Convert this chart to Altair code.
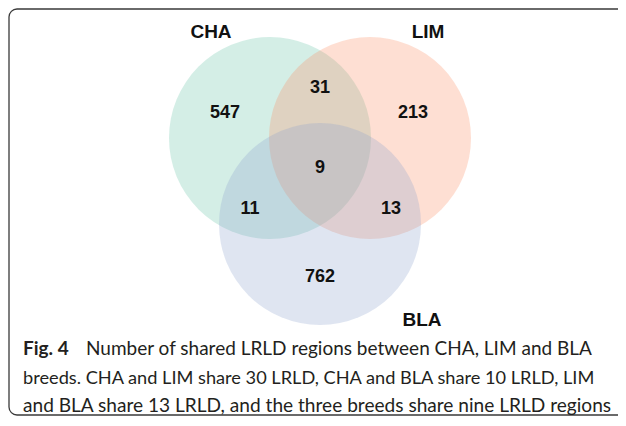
import altair as alt
import pandas as pd

# ---- data ----
sets = ["CHA", "LIM", "BLA"]
set_colors = ["#66c2a5", "#fc8d62", "#8da0cb"]
region_names = ["CHA only", "CHA & LIM", "LIM only", "all three", "CHA & BLA", "LIM & BLA", "BLA only"]
region_counts = [547, 31, 213, 9, 11, 13, 762]
caption_bold = "Fig. 4"
caption_lines = [
    "Number of shared LRLD regions between CHA, LIM and BLA",
    "breeds. CHA and LIM share 30 LRLD, CHA and BLA share 10 LRLD, LIM",
    "and BLA share 13 LRLD, and the three breeds share nine LRLD regions",
]

# ---- layout (chart pixel coordinates, y downward) ----
W, H = 610, 410
circle_cx = [262, 362, 312]
circle_cy = [130, 130, 216]
radius = 101
label_x = [203, 420, 414]
label_y = [24, 24, 312]
region_x = [217, 312, 405, 312, 242, 383, 312]
region_y = [105, 80, 105, 160, 201, 201, 269]
cap_x_bold = 15
cap_x = [78, 15, 15]
cap_y = [347, 376, 404]
cap_size = [19, 18.2, 19.1]

xs = alt.Scale(domain=[0, W], range=[0, W])
ys = alt.Scale(domain=[H, 0])

circles = pd.DataFrame({"set": sets, "cx": circle_cx, "cy": circle_cy})
labels = pd.DataFrame({"set": sets, "x": label_x, "y": label_y})
regions = pd.DataFrame({"region": region_names, "count": region_counts,
                        "x": region_x, "y": region_y})
caps = pd.DataFrame({"text": caption_lines, "x": cap_x, "y": cap_y, "fs": cap_size})
capb = pd.DataFrame({"text": [caption_bold], "x": [cap_x_bold], "y": [cap_y[0]]})

X = lambda f: alt.X(f"{f}:Q", scale=xs, axis=None)
Y = lambda f: alt.Y(f"{f}:Q", scale=ys, axis=None)

# Vega symbol size: radius = sqrt(size) / 2
circle_layer = alt.Chart(circles).mark_circle(opacity=0.28).encode(
    x=X("cx"), y=Y("cy"),
    size=alt.value((2 * radius) ** 2),
    color=alt.Color("set:N", scale=alt.Scale(domain=sets, range=set_colors), legend=None),
)

label_layer = alt.Chart(labels).mark_text(
    font="Liberation Sans", fontWeight="bold", fontSize=19, color="#111111",
    baseline="middle", align="center"
).encode(x=X("x"), y=Y("y"), text="set:N")

region_layer = alt.Chart(regions).mark_text(
    font="Liberation Sans", fontWeight="bold", fontSize=18, color="#111111",
    baseline="middle", align="center"
).encode(x=X("x"), y=Y("y"), text="count:Q")

cap_layer = alt.Chart(caps).mark_text(
    font="Lato", color="#231f20", baseline="alphabetic", align="left"
).encode(x=X("x"), y=Y("y"), text="text:N",
         size=alt.Size("fs:Q", scale=None, legend=None))

capb_layer = alt.Chart(capb).mark_text(
    font="Lato", fontWeight="bold", fontSize=19, color="#231f20", baseline="alphabetic", align="left"
).encode(x=X("x"), y=Y("y"), text="text:N")

border = alt.Chart(pd.DataFrame({"k": [0]})).mark_rect(
    fill="white", fillOpacity=0, stroke="#3a3a3a", strokeWidth=1.3, cornerRadius=8
).encode(x=alt.value(1), x2=alt.value(900), y=alt.value(1), y2=alt.value(407))

chart = alt.layer(border, circle_layer, label_layer, region_layer, cap_layer, capb_layer).properties(
    width=W, height=H, padding=0, autosize=alt.AutoSizeParams(type="none")
).configure_view(strokeWidth=0)

chart.save("out.html", embed_options={"renderer": "svg", "actions": False})
